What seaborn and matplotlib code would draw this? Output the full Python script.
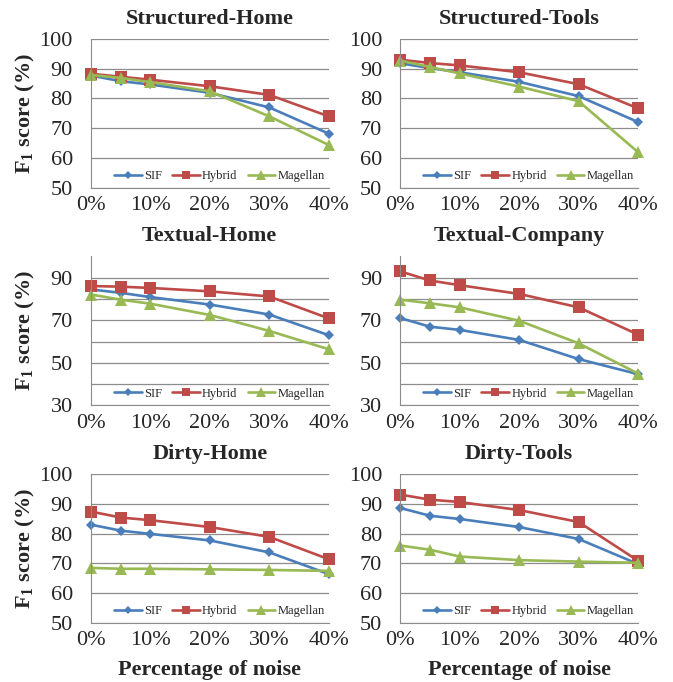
import numpy as np
import pandas as pd
import seaborn as sns
import matplotlib.pyplot as plt
from matplotlib.ticker import FuncFormatter

noise = [0, 5, 10, 20, 30, 40]
methods = ["SIF", "Hybrid", "Magellan"]

titles = ["Structured-Home", "Structured-Tools", "Textual-Home",
          "Textual-Company", "Dirty-Home", "Dirty-Tools"]

sif = {
    "Structured-Home": [87.7, 85.8, 84.7, 81.9, 77.0, 68.2],
    "Structured-Tools": [91.8, 90.2, 88.8, 85.6, 80.8, 72.1],
    "Textual-Home": [84.5, 82.9, 80.9, 77.4, 72.7, 63.0],
    "Textual-Company": [71.1, 67.0, 65.5, 60.8, 51.8, 44.7],
    "Dirty-Home": [83.0, 81.0, 79.9, 77.7, 73.7, 66.4],
    "Dirty-Tools": [88.6, 86.0, 84.9, 82.2, 78.2, 69.8],
}
hybrid = {
    "Structured-Home": [88.3, 87.3, 86.3, 84.1, 81.2, 74.0],
    "Structured-Tools": [93.0, 91.9, 91.1, 88.8, 84.8, 76.7],
    "Textual-Home": [86.1, 85.8, 85.2, 83.6, 81.2, 70.9],
    "Textual-Company": [93.0, 88.7, 86.5, 82.4, 76.1, 63.3],
    "Dirty-Home": [87.4, 85.4, 84.5, 82.2, 78.9, 71.4],
    "Dirty-Tools": [93.1, 91.4, 90.6, 87.9, 83.9, 70.9],
}
magellan = {
    "Structured-Home": [87.9, 86.9, 85.5, 82.4, 74.0, 64.4],
    "Structured-Tools": [92.7, 90.6, 88.4, 84.0, 79.1, 62.0],
    "Textual-Home": [82.1, 79.7, 77.8, 72.5, 65.0, 56.4],
    "Textual-Company": [79.7, 78.0, 76.1, 69.8, 59.2, 45.0],
    "Dirty-Home": [68.5, 68.2, 68.2, 68.0, 67.8, 67.5],
    "Dirty-Tools": [76.0, 74.6, 72.3, 71.1, 70.6, 70.2],
}

rows = []
for t in titles:
    for name, src in zip(methods, [sif, hybrid, magellan]):
        for x, y in zip(noise, src[t]):
            rows.append({"dataset": t, "method": name, "noise": x, "f1": y})
df = pd.DataFrame(rows)

sns.set_style("white")
plt.rcParams["font.family"] = ["Liberation Serif", "DejaVu Serif"]
plt.rcParams["mathtext.fontset"] = "custom"
plt.rcParams["mathtext.bf"] = "Liberation Serif:bold"
plt.rcParams["mathtext.rm"] = "Liberation Serif"

palette = {"SIF": "#4A7EBB", "Hybrid": "#BE4B48", "Magellan": "#98B954"}
markers = {"SIF": "D", "Hybrid": "s", "Magellan": "^"}
msize = {"SIF": 5.5, "Hybrid": 8, "Magellan": 8.5}

fig, axes = plt.subplots(3, 2, figsize=(6.73, 6.82), dpi=100)
fig.subplots_adjust(left=0.135, right=0.948, top=0.943, bottom=0.0865,
                    wspace=0.30, hspace=0.46)

for i, (ax, t) in enumerate(zip(axes.flatten(), titles)):
    sub = df[df["dataset"] == t]
    for m in methods:
        d = sub[sub["method"] == m]
        sns.lineplot(data=d, x="noise", y="f1", ax=ax, color=palette[m],
                     marker=markers[m], markersize=msize[m], markeredgewidth=0,
                     linewidth=1.9, label=m, clip_on=False)
    ax.set_xlim(0, 40)
    ax.set_xticks([0, 10, 20, 30, 40])
    ax.xaxis.set_major_formatter(FuncFormatter(lambda v, p: f"{int(v)}%"))
    if i in (2, 3):
        ax.set_ylim(30, 100)
        ax.set_yticks([30, 50, 70, 90])
        ax.set_yticks([40, 60, 80], minor=True)
        ax.grid(axis="y", which="both", color="#8c8c8c", linewidth=0.9)
    else:
        ax.set_ylim(50, 100)
        ax.set_yticks([50, 60, 70, 80, 90, 100])
        ax.grid(axis="y", color="#8c8c8c", linewidth=0.9)
    ax.spines["top"].set_visible(False)
    ax.spines["right"].set_visible(False)
    ax.spines["left"].set_color("#8c8c8c")
    ax.spines["bottom"].set_color("#8c8c8c")
    ax.set_axisbelow(True)
    ax.tick_params(axis="both", which="both", length=0, labelsize=16)
    ax.tick_params(axis="y", pad=13)
    ax.tick_params(axis="x", pad=6)
    ax.set_title(t, fontsize=16, fontweight="bold", pad=11)
    ax.set_ylabel("F$_\\mathbf{1}$ score (%)" if i % 2 == 0 else "",
                  fontsize=16, fontweight="bold", labelpad=1.5)
    ax.set_xlabel("Percentage of noise" if i >= 4 else "",
                  fontsize=16, fontweight="bold", labelpad=7)
    ax.legend(loc="lower right", bbox_to_anchor=(1.02, -0.02), ncol=3,
              frameon=False, fontsize=9, handlelength=2.2, columnspacing=0.8,
              handletextpad=0.2, borderaxespad=0.3, markerscale=0.8)

fig.align_ylabels(axes[:, 0])
fig.savefig("out.png", dpi=100)
